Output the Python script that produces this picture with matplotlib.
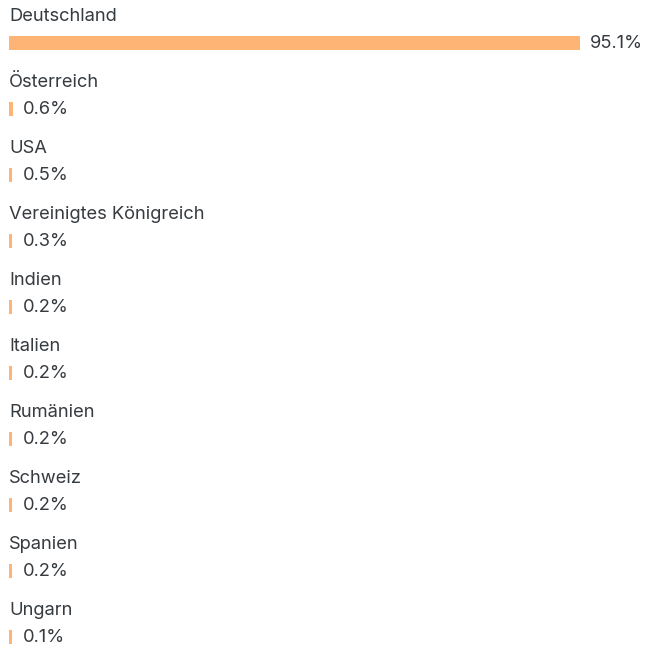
import matplotlib.pyplot as plt

countries = ["Deutschland", "Österreich", "USA", "Vereinigtes Königreich", "Indien",
             "Italien", "Rumänien", "Schweiz", "Spanien", "Ungarn"]
shares = [95.1, 0.6, 0.5, 0.3, 0.2, 0.2, 0.2, 0.2, 0.2, 0.1]

bar_color = "#fdb474"
text_color = "#363b40"
row_px = 66.0

plt.rcParams['font.family'] = ['Inter', 'DejaVu Sans']

fig = plt.figure(figsize=(6.51, 6.49), dpi=100)
W, H = 651, 649
ax = fig.add_axes([9 / W, 0, 600 / W, 1])
ax.set_xlim(0, 100)
top = -43 / row_px
ax.set_ylim(top + H / row_px, top)
ax.axis('off')

min_w = 0.5  # keep tiny shares visible
for i, (c, v) in enumerate(zip(countries, shares)):
    w = max(v, min_w)
    ax.barh(i, w, height=14 / row_px, color=bar_color, left=0)
    ax.text(0, i - 27 / row_px, c, fontsize=13.2, color=text_color,
            va='center', ha='left')
    ax.annotate(f"{v:.1f}%", xy=(w, i), xytext=(7.5, 0), textcoords='offset points',
                fontsize=13.2, color=text_color, va='center', ha='left',
                annotation_clip=False)

fig.savefig("out.png", dpi=100, facecolor='white')
